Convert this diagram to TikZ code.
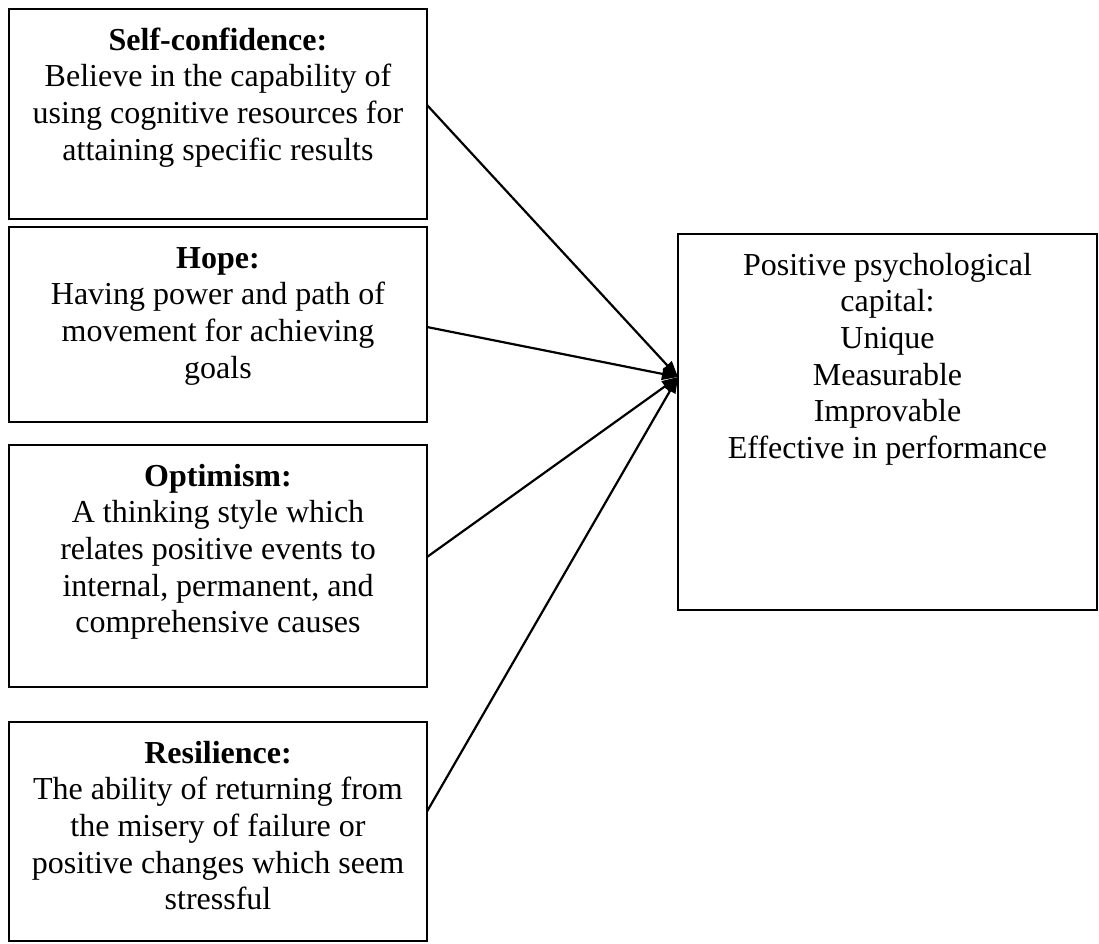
\documentclass[tikz,border=0pt]{standalone}
\usepackage{fontspec}
\setmainfont{Liberation Serif}
\usetikzlibrary{arrows.meta}
\newcommand\boxtext[3]{\parbox[t][#2][t]{#1}{\centering\rule{0pt}{41pt}#3}}
\tikzset{
  box/.style={draw, line width=2.6pt, inner sep=0pt, outer sep=0pt, anchor=north west,
              font=\fontsize{32}{36.7}\selectfont},
  arr/.style={line width=2.2pt, -{Triangle[length=16pt,width=12pt]}}
}
\begin{document}
\begin{tikzpicture}[x=1pt,y=-1pt]
\useasboundingbox (0,0) rectangle (1099,943);
\node[box] (b1) at (9,9) {\boxtext{418pt}{210pt}{\textbf{Self-confidence:}\\Believe in the capability of\\using cognitive resources for\\attaining specific results}};
\node[box] (b2) at (9,227) {\boxtext{418pt}{195pt}{\textbf{Hope:}\\Having power and path of\\movement for achieving\\goals}};
\node[box] (b3) at (9,445) {\boxtext{418pt}{242pt}{\textbf{Optimism:}\\A thinking style which\\relates positive events to\\internal, permanent, and\\comprehensive causes}};
\node[box] (b4) at (9,722) {\boxtext{418pt}{219pt}{\textbf{Resilience:}\\The ability of returning from\\the misery of failure or\\positive changes which seem\\stressful}};
\node[box] (pc) at (678,234) {\boxtext{419pt}{376pt}{Positive psychological\\capital:\\Unique\\Measurable\\Improvable\\Effective in performance}};
\draw[arr] ([yshift=9pt]b1.east) -- ([yshift=45pt]pc.west);
\draw[arr] ([yshift=-2.5pt]b2.east) -- ([yshift=45pt]pc.west);
\draw[arr] ([yshift=9pt]b3.east) -- ([yshift=45pt]pc.west);
\draw[arr] ([yshift=20pt]b4.east) -- ([yshift=45pt]pc.west);
\end{tikzpicture}
\end{document}
